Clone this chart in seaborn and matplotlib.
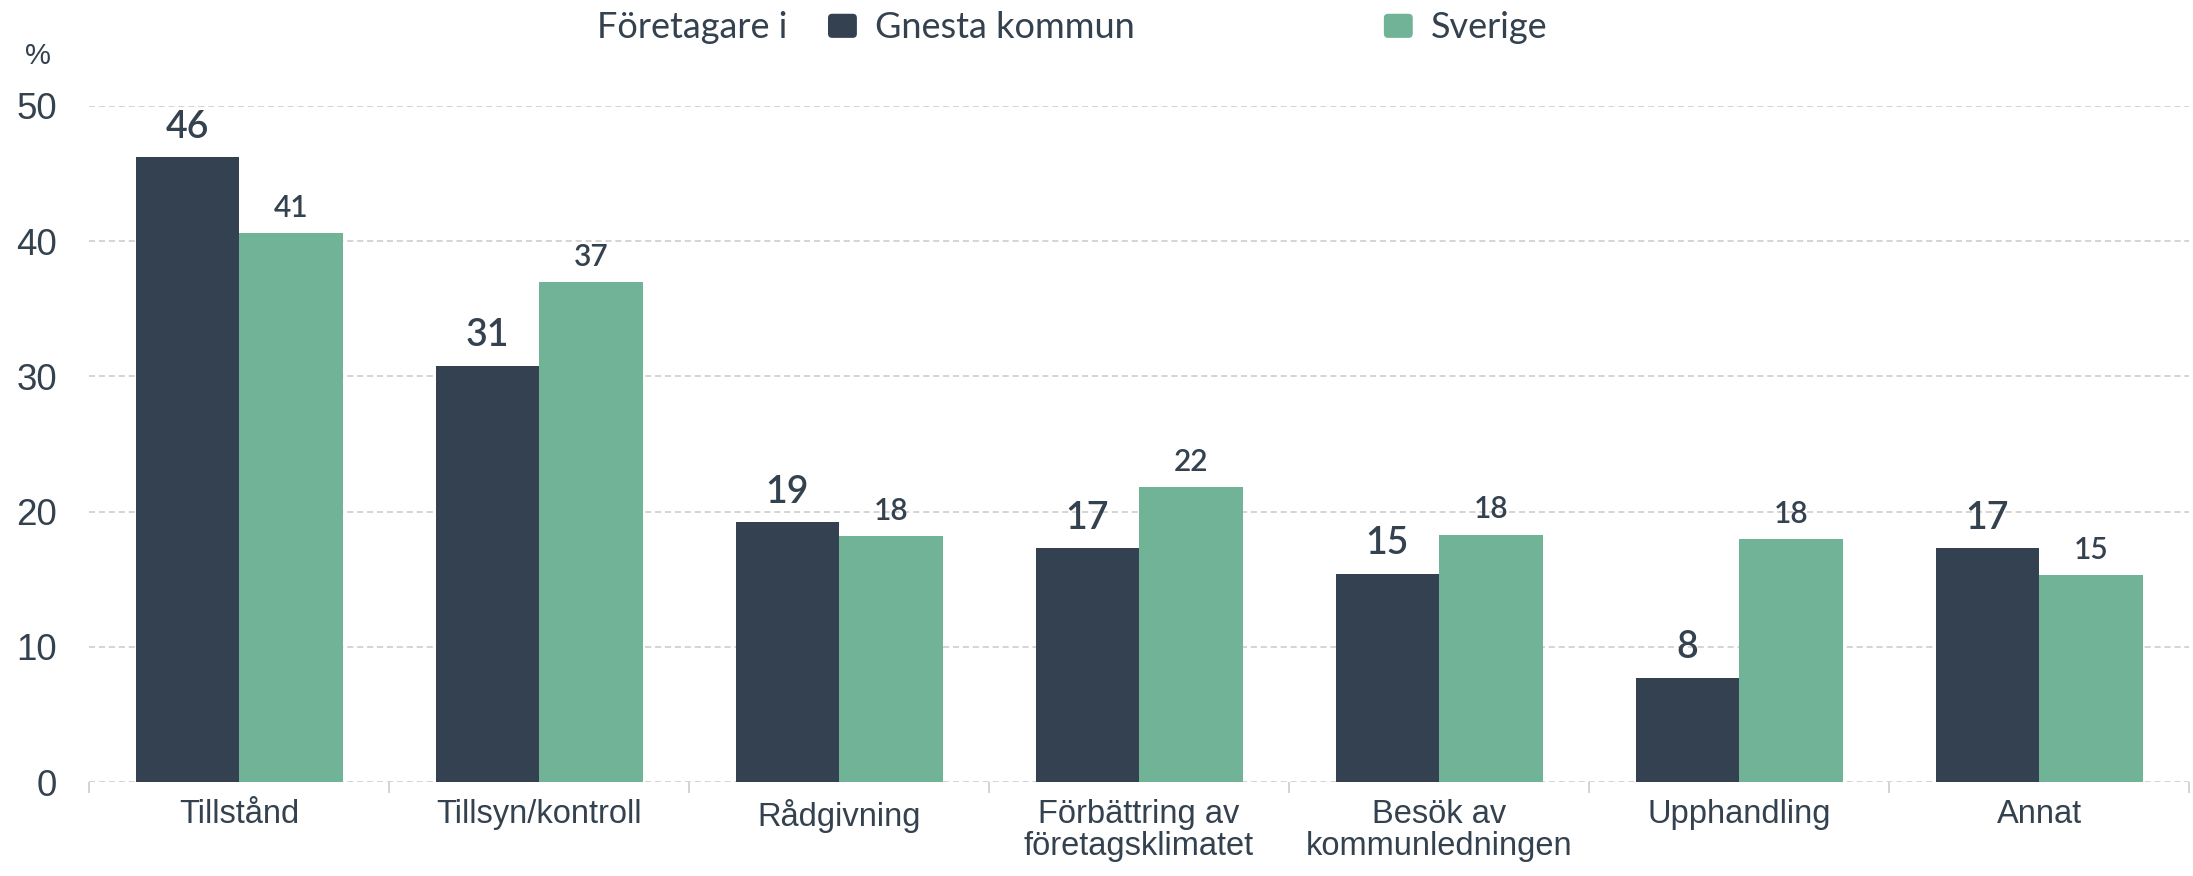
import matplotlib
matplotlib.use('Agg')
import numpy as np
import pandas as pd
import matplotlib.pyplot as plt
from matplotlib.patches import Patch, FancyBboxPatch
from matplotlib.legend_handler import HandlerPatch
import seaborn as sns

# Data (percent)
kategorier = ['Tillstånd', 'Tillsyn/kontroll', 'Rådgivning',
              'Förbättring av\nföretagsklimatet', 'Besök av\nkommunledningen',
              'Upphandling', 'Annat']
gnesta = [46.2, 30.8, 19.2, 17.3, 15.4, 7.7, 17.3]
sverige = [40.6, 37.0, 18.2, 21.8, 18.3, 18.0, 15.3]
grupper = ['Gnesta kommun', 'Sverige']
yticks = [0, 10, 20, 30, 40, 50]

dark = '#344150'
green = '#71b397'
textcol = '#34414f'

df = pd.DataFrame({
    'kategori': kategorier * 2,
    'andel': gnesta + sverige,
    'grupp': [grupper[0]] * len(kategorier) + [grupper[1]] * len(kategorier),
})


# rounded squares in the legend
class RoundHandler(HandlerPatch):
    def create_artists(self, legend, orig_handle, xdescent, ydescent,
                       width, height, fontsize, trans):
        p = FancyBboxPatch((-xdescent, -ydescent), width, height,
                           boxstyle='round,pad=0,rounding_size=3',
                           facecolor=orig_handle.get_facecolor(), edgecolor='none',
                           transform=trans)
        return [p]


sns.set_theme(style='white')
plt.rcParams['font.family'] = ['Liberation Sans', 'DejaVu Sans']

fig = plt.figure(figsize=(21.93, 8.76), dpi=100)
ax = fig.add_axes([0.0406, 0.1073, 0.9576, 0.7717])

sns.barplot(data=df, x='kategori', y='andel', hue='grupp', order=kategorier,
            hue_order=grupper, palette=[dark, green], width=0.69, gap=0,
            saturation=1, errorbar=None, linewidth=0, legend=False, ax=ax)

# value labels
ax.bar_label(ax.containers[0], fmt='%.0f', padding=9, fontsize=27,
             family=['Lato', 'DejaVu Sans'], fontweight='semibold', color=textcol)
ax.bar_label(ax.containers[1], fmt='%.0f', padding=8, fontsize=21.5,
             family=['Lato', 'DejaVu Sans'], fontweight='semibold', color=textcol)

ax.set_ylim(0, 50)
ax.set_xlim(-0.5, len(kategorier) - 0.5)
ax.set_yticks(yticks)
ax.set_xticks(np.arange(-0.5, len(kategorier), 1), minor=True)
ax.tick_params(axis='y', length=0, pad=23, labelsize=26.5, labelcolor=textcol)
ax.tick_params(axis='x', which='major', bottom=False, length=0, pad=12,
               labelsize=23.5, labelcolor=textcol)
ax.tick_params(axis='x', which='minor', bottom=True, length=8, width=1.2,
               color='#cccccc')
for lbl in ax.get_xticklabels():
    lbl.set_linespacing(1.05)

ax.yaxis.grid(True, linestyle=(0, (4, 2.5)), color='#c9c9c9', linewidth=1.1)
ax.set_axisbelow(True)
sns.despine(ax=ax, left=True, bottom=True)
ax.set_xlabel('')
ax.set_ylabel('')

# legend row at the top
fig.text(597 / 2193, 1 - 28 / 876, 'Företagare i', ha='left', va='center',
         fontsize=26, family=['Lato', 'DejaVu Sans'], color=textcol)
handles = [Patch(facecolor=dark), Patch(facecolor=green)]
fig.legend(handles, grupper, loc='center left', bbox_to_anchor=(828 / 2193, 1 - 28 / 876),
           ncol=2, frameon=False, prop={'family': ['Lato', 'DejaVu Sans'], 'size': 26},
           labelcolor=textcol, handlelength=0.8, handleheight=0.65, handletextpad=0.5,
           columnspacing=6.9, borderpad=0, borderaxespad=0,
           handler_map={Patch: RoundHandler()})

fig.text(38 / 2193, 1 - 56 / 876, '%', ha='center', va='center', fontsize=21, color=textcol)

fig.savefig('out.png', dpi=100)
